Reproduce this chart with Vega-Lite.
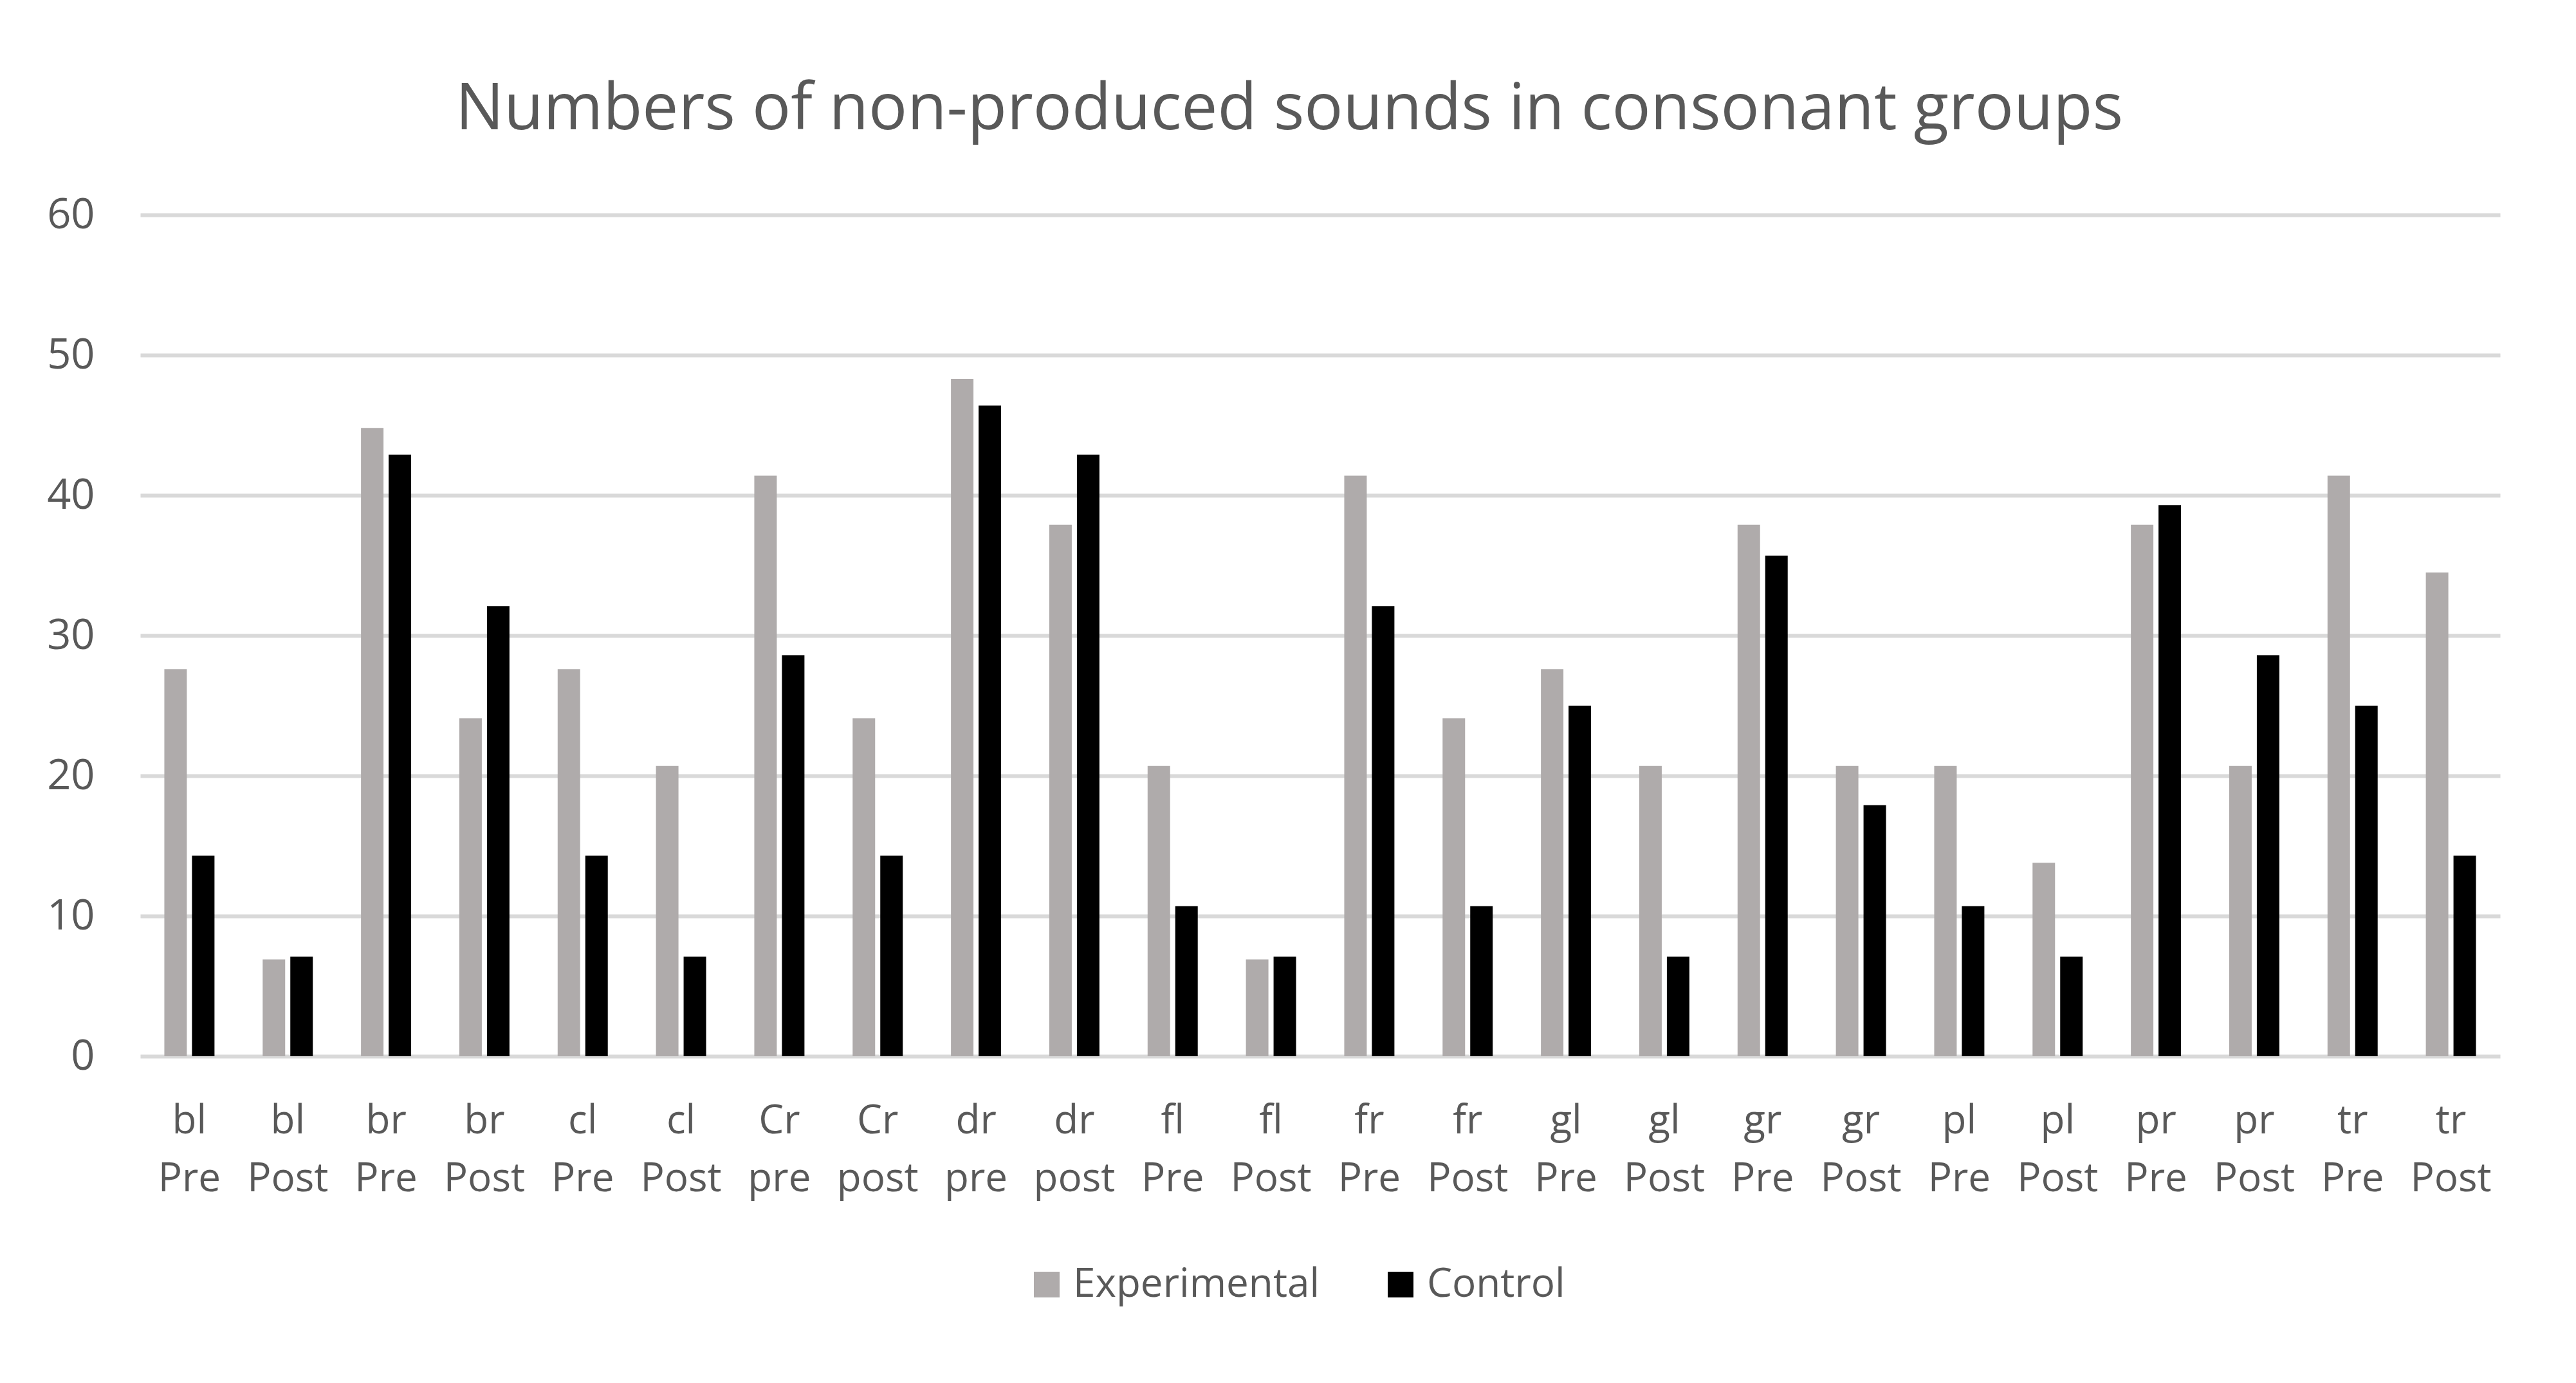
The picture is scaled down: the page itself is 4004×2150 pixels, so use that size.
{
  "$schema": "https://vega.github.io/schema/vega-lite/v6.json",
  "autosize": {"type": "none"},
  "padding": {"left": 218, "top": 334, "right": 118, "bottom": 508},
  "width": 3668,
  "height": 1308,
  "background": "white",
  "title": {
    "text": "Numbers of non-produced sounds in consonant groups",
    "fontSize": 100,
    "font": "Open Sans",
    "fontWeight": "normal",
    "color": "#595959",
    "anchor": "middle",
    "dx": -48,
    "offset": 80
  },
  "data": {
    "values": [
      {"cat": "bl Pre", "group": "Experimental", "value": 27.6},
      {"cat": "bl Pre", "group": "Control", "value": 14.3},
      {"cat": "bl Post", "group": "Experimental", "value": 6.9},
      {"cat": "bl Post", "group": "Control", "value": 7.1},
      {"cat": "br Pre", "group": "Experimental", "value": 44.8},
      {"cat": "br Pre", "group": "Control", "value": 42.9},
      {"cat": "br Post", "group": "Experimental", "value": 24.1},
      {"cat": "br Post", "group": "Control", "value": 32.1},
      {"cat": "cl Pre", "group": "Experimental", "value": 27.6},
      {"cat": "cl Pre", "group": "Control", "value": 14.3},
      {"cat": "cl Post", "group": "Experimental", "value": 20.7},
      {"cat": "cl Post", "group": "Control", "value": 7.1},
      {"cat": "Cr pre", "group": "Experimental", "value": 41.4},
      {"cat": "Cr pre", "group": "Control", "value": 28.6},
      {"cat": "Cr post", "group": "Experimental", "value": 24.1},
      {"cat": "Cr post", "group": "Control", "value": 14.3},
      {"cat": "dr pre", "group": "Experimental", "value": 48.3},
      {"cat": "dr pre", "group": "Control", "value": 46.4},
      {"cat": "dr post", "group": "Experimental", "value": 37.9},
      {"cat": "dr post", "group": "Control", "value": 42.9},
      {"cat": "fl Pre", "group": "Experimental", "value": 20.7},
      {"cat": "fl Pre", "group": "Control", "value": 10.7},
      {"cat": "fl Post", "group": "Experimental", "value": 6.9},
      {"cat": "fl Post", "group": "Control", "value": 7.1},
      {"cat": "fr Pre", "group": "Experimental", "value": 41.4},
      {"cat": "fr Pre", "group": "Control", "value": 32.1},
      {"cat": "fr Post", "group": "Experimental", "value": 24.1},
      {"cat": "fr Post", "group": "Control", "value": 10.7},
      {"cat": "gl Pre", "group": "Experimental", "value": 27.6},
      {"cat": "gl Pre", "group": "Control", "value": 25.0},
      {"cat": "gl Post", "group": "Experimental", "value": 20.7},
      {"cat": "gl Post", "group": "Control", "value": 7.1},
      {"cat": "gr Pre", "group": "Experimental", "value": 37.9},
      {"cat": "gr Pre", "group": "Control", "value": 35.7},
      {"cat": "gr Post", "group": "Experimental", "value": 20.7},
      {"cat": "gr Post", "group": "Control", "value": 17.9},
      {"cat": "pl Pre", "group": "Experimental", "value": 20.7},
      {"cat": "pl Pre", "group": "Control", "value": 10.7},
      {"cat": "pl Post", "group": "Experimental", "value": 13.8},
      {"cat": "pl Post", "group": "Control", "value": 7.1},
      {"cat": "pr Pre", "group": "Experimental", "value": 37.9},
      {"cat": "pr Pre", "group": "Control", "value": 39.3},
      {"cat": "pr Post", "group": "Experimental", "value": 20.7},
      {"cat": "pr Post", "group": "Control", "value": 28.6},
      {"cat": "tr Pre", "group": "Experimental", "value": 41.4},
      {"cat": "tr Pre", "group": "Control", "value": 25.0},
      {"cat": "tr Post", "group": "Experimental", "value": 34.5},
      {"cat": "tr Post", "group": "Control", "value": 14.3}
    ]
  },
  "mark": {"type": "bar"},
  "encoding": {
    "x": {
      "field": "cat",
      "type": "nominal",
      "sort": null,
      "scale": {"paddingInner": 0.49, "paddingOuter": 0.245},
      "axis": {
        "title": null,
        "labelAngle": 0,
        "labelExpr": "split(datum.label, ' ')",
        "labelFont": "Open Sans",
        "labelFontSize": 62,
        "labelColor": "#595959",
        "labelLineHeight": 90,
        "labelPadding": 70,
        "labelBaseline": "top",
        "domain": false,
        "ticks": false,
        "grid": false
      }
    },
    "xOffset": {
      "field": "group",
      "type": "nominal",
      "sort": ["Experimental", "Control"],
      "scale": {"paddingInner": 0.186, "paddingOuter": 0}
    },
    "y": {
      "field": "value",
      "type": "quantitative",
      "scale": {"domain": [0, 60]},
      "axis": {
        "title": null,
        "values": [0, 10, 20, 30, 40, 50, 60],
        "labelFont": "Open Sans",
        "labelFontSize": 65,
        "labelColor": "#595959",
        "labelPadding": 71,
        "domain": false,
        "ticks": false,
        "grid": true,
        "gridColor": "#d9d9d9",
        "gridWidth": 6
      }
    },
    "color": {
      "field": "group",
      "type": "nominal",
      "sort": ["Experimental", "Control"],
      "scale": {"domain": ["Experimental", "Control"], "range": ["#afabab", "#000000"]},
      "legend": {
        "title": null,
        "orient": "none",
        "legendX": 1378,
        "legendY": 1632,
        "padding": 0,
        "direction": "horizontal",
        "symbolType": "square",
        "symbolSize": 1600,
        "symbolStrokeWidth": 0,
        "labelFont": "Open Sans",
        "labelFontSize": 62,
        "labelColor": "#595959",
        "labelLimit": 0,
        "labelOffset": 10,
        "columnPadding": 94
      }
    }
  },
  "config": {
    "view": {"stroke": null}
  }
}
